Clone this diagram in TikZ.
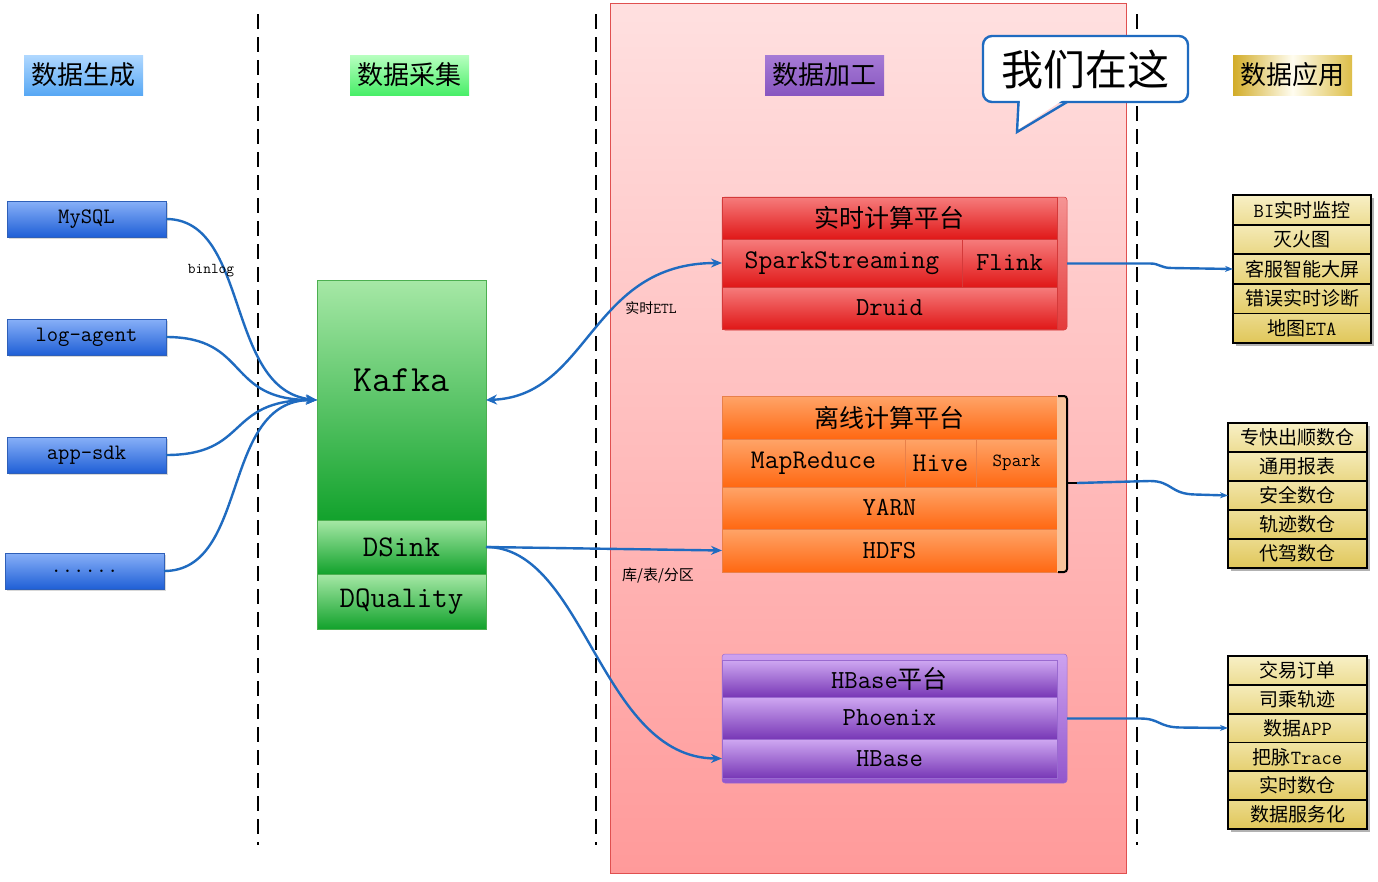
\documentclass[tikz,border=0pt]{standalone}
\usepackage{fontspec}
\setmainfont{Latin Modern Mono}
\newfontfamily\cjk{Noto Sans CJK SC}
\usetikzlibrary{arrows.meta,calc,shadows}
\definecolor{lnk}{HTML}{1F6BC0}
\definecolor{goldL}{HTML}{F8F0C6}
\definecolor{goldD}{HTML}{D8B935}
\definecolor{srcT}{HTML}{88B0F8}
\definecolor{srcB}{HTML}{1F5FD6}
\definecolor{srcE}{HTML}{2E5FB8}
\definecolor{grnT}{HTML}{A6E8A6}
\definecolor{grnB}{HTML}{12A22C}
\definecolor{grnE}{HTML}{4CAF50}
\definecolor{redT}{HTML}{F67C7C}
\definecolor{redB}{HTML}{E01818}
\definecolor{redE}{HTML}{D43A3A}
\definecolor{rfT}{HTML}{F59494}
\definecolor{rfB}{HTML}{E43A3A}
\definecolor{orT}{HTML}{FFA468}
\definecolor{orB}{HTML}{FF6812}
\definecolor{orE}{HTML}{E8804A}
\definecolor{peach}{HTML}{F8C39C}
\definecolor{puT}{HTML}{CFA8F2}
\definecolor{puB}{HTML}{7838B6}
\definecolor{puE}{HTML}{9A6AD0}
\definecolor{pfT}{HTML}{CDA2F0}
\definecolor{pfB}{HTML}{9256CC}
\definecolor{pinkT}{HTML}{FFE0E0}
\definecolor{pinkB}{HTML}{FF9A9A}
\definecolor{panelE}{HTML}{E05050}
\newcommand\fsz[1]{\fontsize{#1pt}{#1pt}\selectfont}
\newcommand\lrw[8]{\node[lrow, minimum width=#4, minimum height=#5, top color=goldD!#6!goldL, bottom color=goldD!#7!goldL] (#1) at (#2,#3) {#8};}
\begin{document}
\begin{tikzpicture}[x=1pt,y=-1pt,
  every node/.style={inner sep=0pt,outer sep=0pt},
  sep/.style={line width=2.6pt, dash pattern=on 15pt off 8pt},
  hdr/.style={minimum width=119, minimum height=40, font=\cjk\fsz{26}},
  src/.style={minimum width=159, minimum height=36, top color=srcT, bottom color=srcB, draw=srcE, line width=0.6pt, drop shadow={opacity=0.3,shadow xshift=2pt,shadow yshift=-2pt}, font=\fsz{22}},
  grn/.style={anchor=north west, minimum width=169, top color=grnT, bottom color=grnB, draw=grnE, line width=0.6pt},
  rrow/.style={anchor=north west, top color=redT, bottom color=redB, draw=redE, line width=0.5pt},
  orow/.style={anchor=north west, top color=orT, bottom color=orB, draw=orE, line width=0.5pt},
  prow/.style={anchor=north west, top color=puT, bottom color=puB, draw=puE, line width=0.5pt, minimum width=335, font=\fsz{26}},
  lrow/.style={anchor=north west, draw=black, line width=1.8pt, font=\cjk\fsz{19}},
  conn/.style={draw=lnk, line width=2.4pt, -{Stealth[length=11pt,width=9pt]}},
  conn2/.style={draw=lnk, line width=2.4pt, {Stealth[length=11pt,width=10pt]}-{Stealth[length=11pt,width=9pt]}},
  lab/.style={font=\fsz{15}}
]
\useasboundingbox (0,0) rectangle (1378,881);
\fill[white] (0,0) rectangle (1378,881);

% processing panel
\node[anchor=north west, minimum width=516, minimum height=870, top color=pinkT, bottom color=pinkB, draw=panelE, line width=0.8pt] (panel) at (610,3) {};

% separators
\draw[sep] (258,14) -- (258,845);
\draw[sep] (596,14) -- (596,845);
\draw[sep] (1137,14) -- (1137,845);

% headers
\node[hdr, top color={rgb,255:red,176;green,216;blue,255}, bottom color={rgb,255:red,88;green,168;blue,244}] (h1) at (83.5,75) {数据生成};
\node[hdr, top color={rgb,255:red,184;green,255;blue,192}, bottom color={rgb,255:red,72;green,238;blue,104}] (h2) at (409.5,75) {数据采集};
\node[hdr, top color={rgb,255:red,166;green,123;blue,214}, bottom color={rgb,255:red,136;green,86;blue,192}] (h3) at (824.5,75) {数据加工};
\node[hdr, left color={rgb,255:red,210;green,172;blue,40}, right color={rgb,255:red,221;green,190;blue,72}, middle color={rgb,255:red,255;green,253;blue,240}] (h4) at (1292.5,75) {数据应用};

% speech bubble
\node[draw=lnk, line width=2.4pt, fill=white, rounded corners=9pt, minimum width=205, minimum height=66, font=\cjk\fsz{42}] (bub) at (1085.5,69) {我们在这};
\fill[white] (1020,100) -- (1063,100) -- (1017.5,130) -- cycle;
\draw[lnk, line width=2.4pt, line join=miter] (1018.5,102) -- (1017,132) -- (1067,102);

% sources
\node[src] (mysql) at (86.5,219) {MySQL};
\node[src] (logag) at (86.5,337) {log-agent};
\node[src] (appsdk) at (86.5,455) {app-sdk};
\node[src] (dots) at (84.5,571) {......};

% collection column
\node[grn, minimum height=240] (kafka) at (317,280) {};
\node[font=\fsz{37}] (kafkat) at ($(kafka.center)+(0,-20)$) {Kafka};
\node[grn, minimum height=54, font=\fsz{30}] (dsink) at (317,520) {DSink};
\node[grn, minimum height=55, font=\fsz{30}] (dqual) at (317,574) {DQuality};

% realtime platform
\node[anchor=north west, minimum width=345, minimum height=133, top color=rfT, bottom color=rfB, draw=redE, line width=0.5pt, rounded corners=3pt] (rt) at (722,197) {};
\node[rrow, minimum width=335, minimum height=42, font=\cjk\fsz{25}] (rt1) at (722,197) {实时计算平台};
\node[rrow, minimum width=240, minimum height=48, font=\fsz{27}] (rt2a) at (722,239) {SparkStreaming};
\node[rrow, minimum width=95, minimum height=48, font=\fsz{26}] (rt2b) at (962,239) {Flink};
\node[rrow, minimum width=335, minimum height=42, font=\fsz{26}] (rt3) at (722,287) {Druid};

% offline platform
\node[orow, minimum width=335, minimum height=43, font=\cjk\fsz{25}] (of1) at (722,396) {离线计算平台};
\node[orow, minimum width=183, minimum height=48, font=\fsz{27}] (of2a) at (722,439) {MapReduce};
\node[orow, minimum width=71, minimum height=48, font=\fsz{27}] (of2b) at (905,439) {Hive};
\node[orow, minimum width=81, minimum height=48, font=\fsz{18.5}] (of2c) at (976,439) {Spark};
\node[orow, minimum width=335, minimum height=42, font=\fsz{26}] (of3) at (722,487) {YARN};
\node[orow, minimum width=335, minimum height=43, font=\fsz{26}] (of4) at (722,529) {HDFS};
\fill[peach] (1057,396) rectangle (1066,572);
\draw[line width=2pt, rounded corners=3pt] (1058,396) -- (1067,396) -- (1067,572) -- (1058,572);
\coordinate (ofo) at (1077,483);
\draw[line width=2pt] (1067,483) -- (ofo);

% hbase platform
\node[anchor=north west, minimum width=345, minimum height=129, top color=pfT, bottom color=pfB, draw=puE, line width=0.5pt, rounded corners=3pt] (hb) at (722,654) {};
\node[prow, minimum height=37] (hb1) at (722,660) {HBase{\cjk\fsz{25}平台}};
\node[prow, minimum height=42] (hb2) at (722,697) {Phoenix};
\node[prow, minimum height=39] (hb3) at (722,739) {HBase};

% application lists
\fill[black!30] (1236,198) rectangle (1374,346);
\lrw{a1}{1233}{195}{138}{29.6}{0}{35}{{\rmfamily\fsz{20}BI}实时监控}
\lrw{a2}{1233}{224.6}{138}{29.6}{10}{45}{灭火图}
\lrw{a3}{1233}{254.2}{138}{29.6}{20}{55}{客服智能大屏}
\lrw{a4}{1233}{283.8}{138}{29.6}{30}{65}{错误实时诊断}
\lrw{a5}{1233}{313.4}{138}{29.6}{40}{75}{地图{\rmfamily\fsz{20}ETA}}

\fill[black!30] (1231,426) rectangle (1370,571);
\lrw{b1}{1228}{423}{139}{29}{0}{35}{专快出顺数仓}
\lrw{b2}{1228}{452}{139}{29}{10}{45}{通用报表}
\lrw{b3}{1228}{481}{139}{29}{20}{55}{安全数仓}
\lrw{b4}{1228}{510}{139}{29}{30}{65}{轨迹数仓}
\lrw{b5}{1228}{539}{139}{29}{40}{75}{代驾数仓}

\fill[black!30] (1231,659) rectangle (1370,832);
\lrw{c1}{1228}{656}{139}{28.8}{0}{35}{交易订单}
\lrw{c2}{1228}{684.8}{139}{28.8}{8}{43}{司乘轨迹}
\lrw{c3}{1228}{713.6}{139}{28.8}{16}{51}{数据{\rmfamily\fsz{20}APP}}
\lrw{c4}{1228}{742.4}{139}{28.8}{24}{59}{把脉{\rmfamily\fsz{20}Trace}}
\lrw{c5}{1228}{771.2}{139}{28.8}{32}{67}{实时数仓}
\lrw{c6}{1228}{800}{139}{28.8}{40}{75}{数据服务化}

% connectors: sources -> kafka
\draw[conn] (mysql.east) .. controls (250,219) and (225,390) .. (kafka.west);
\draw[conn] (logag.east) .. controls (250,337) and (225,400) .. (kafka.west);
\draw[conn] (appsdk.east) .. controls (250,455) and (225,400) .. (kafka.west);
\draw[conn] (dots.east) .. controls (250,571) and (220,400) .. (kafka.west);
\node[lab] (binlog) at (211,271) {binlog};

% kafka <-> realtime
\draw[conn2] (kafka.east) .. controls (590,396) and (590,263) .. (rt2a.west);
\node[font=\cjk\fsz{14}] (etl) at (651,308) {实时{\rmfamily\fsz{15}ETL}};

% dsink -> offline, hbase
\draw[conn] (dsink.east) -- (of4.west);
\node[font=\cjk\fsz{15}] (part) at (658,576) {库/表/分区};
\draw[conn] (dsink.east) .. controls (585,547) and (600,758) .. (hb3.west);

% platforms -> applications
\draw[conn, -{Stealth[length=8pt,width=6pt]}] (rt.east) -- (1150,263.5) .. controls (1160,263.5) and (1160,268) .. (1172,268) -- (a3.west);
\draw[conn, -{Stealth[length=8pt,width=6pt]}] (ofo) -- (1150,481) .. controls (1172,481) and (1170,494) .. (1195,494.5) -- (b3.west);
\draw[conn, -{Stealth[length=8pt,width=6pt]}] (hb.east) -- (1140,718.5) .. controls (1160,718.5) and (1158,727) .. (1180,727.5) -- (c3.west);
\end{tikzpicture}
\end{document}
